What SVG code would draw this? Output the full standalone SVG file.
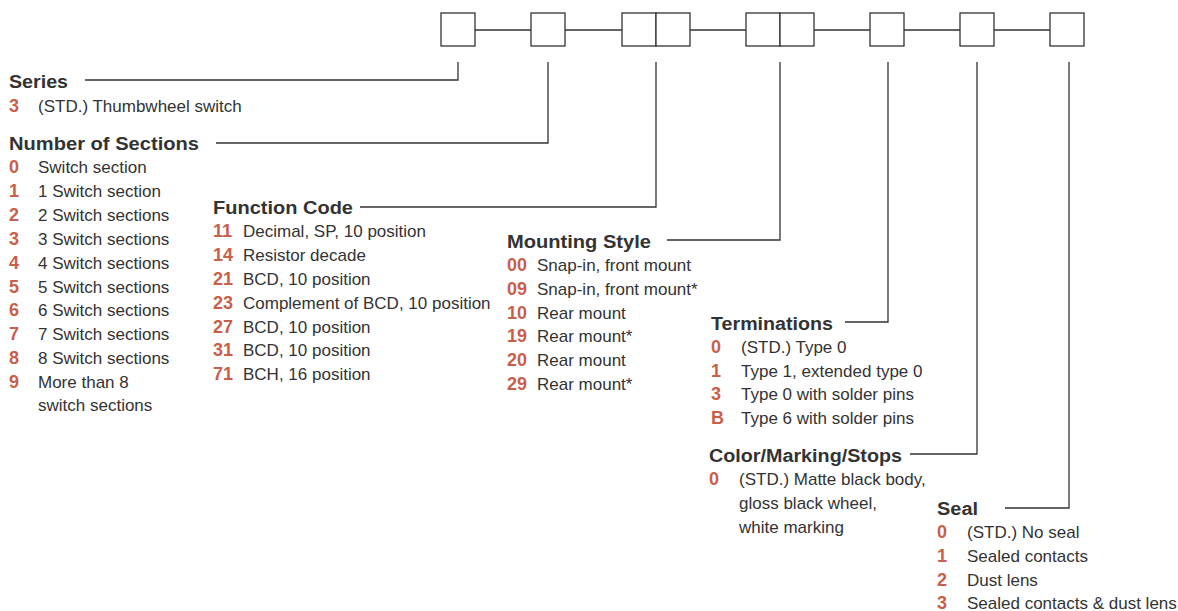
<svg xmlns="http://www.w3.org/2000/svg" width="1178" height="611" viewBox="0 0 1178 611">
<style>
.box{fill:#fff;stroke:#333;stroke-width:1.3}
.ln{fill:none;stroke:#333;stroke-width:1.3}
.h{font-family:"Liberation Sans",Arial,sans-serif;font-weight:bold;font-size:18px;fill:#333}
.t{font-family:"Liberation Sans",Arial,sans-serif;font-size:17px;fill:#333}
.n{font-family:"Liberation Sans",Arial,sans-serif;font-weight:bold;font-size:18px;fill:#c8604a}
</style>
<rect width="1178" height="611" fill="#fff"/>
<g id="connectors">
<path class="ln" d="M475 30H531M565 30H622M690 30H746M814 30H870M904 30H960M994 30H1050"/>
<path class="ln" d="M85 80H458V62"/>
<path class="ln" d="M216 143H548V62"/>
<path class="ln" d="M360 207H656V62"/>
<path class="ln" d="M667 240H780V62"/>
<path class="ln" d="M845 322H888V62"/>
<path class="ln" d="M910 454H977V62"/>
<path class="ln" d="M1005 508H1069V62"/>
</g>
<g id="code-boxes">
<rect class="box" x="441" y="13" width="34" height="33"/>
<rect class="box" x="531" y="13" width="34" height="33"/>
<rect class="box" x="622" y="13" width="34" height="33"/>
<rect class="box" x="656" y="13" width="34" height="33"/>
<rect class="box" x="746" y="13" width="34" height="33"/>
<rect class="box" x="780" y="13" width="34" height="33"/>
<rect class="box" x="870" y="13" width="34" height="33"/>
<rect class="box" x="960" y="13" width="34" height="33"/>
<rect class="box" x="1050" y="13" width="34" height="33"/>
</g>
<g id="series">
<text class="h" x="9" y="88" textLength="59" lengthAdjust="spacingAndGlyphs">Series</text>
<text class="n" x="9" y="112">3</text><text class="t" x="38" y="112">(STD.) Thumbwheel switch</text>
</g>
<g id="number-of-sections">
<text class="h" x="9" y="150" textLength="190" lengthAdjust="spacingAndGlyphs">Number of Sections</text>
<text class="n" x="9" y="173">0</text><text class="t" x="38" y="173">Switch section</text>
<text class="n" x="9" y="197">1</text><text class="t" x="38" y="197">1 Switch section</text>
<text class="n" x="9" y="221">2</text><text class="t" x="38" y="221">2 Switch sections</text>
<text class="n" x="9" y="245">3</text><text class="t" x="38" y="245">3 Switch sections</text>
<text class="n" x="9" y="269">4</text><text class="t" x="38" y="269">4 Switch sections</text>
<text class="n" x="9" y="293">5</text><text class="t" x="38" y="293">5 Switch sections</text>
<text class="n" x="9" y="316">6</text><text class="t" x="38" y="316">6 Switch sections</text>
<text class="n" x="9" y="340">7</text><text class="t" x="38" y="340">7 Switch sections</text>
<text class="n" x="9" y="364">8</text><text class="t" x="38" y="364">8 Switch sections</text>
<text class="n" x="9" y="388">9</text><text class="t" x="38" y="388">More than 8</text>
<text class="t" x="38" y="411">switch sections</text>
</g>
<g id="function-code">
<text class="h" x="213" y="214" textLength="140" lengthAdjust="spacingAndGlyphs">Function Code</text>
<text class="n" x="213" y="237">11</text><text class="t" x="243" y="237">Decimal, SP, 10 position</text>
<text class="n" x="213" y="261">14</text><text class="t" x="243" y="261">Resistor decade</text>
<text class="n" x="213" y="285">21</text><text class="t" x="243" y="285">BCD, 10 position</text>
<text class="n" x="213" y="309">23</text><text class="t" x="243" y="309">Complement of BCD, 10 position</text>
<text class="n" x="213" y="333">27</text><text class="t" x="243" y="333">BCD, 10 position</text>
<text class="n" x="213" y="356">31</text><text class="t" x="243" y="356">BCD, 10 position</text>
<text class="n" x="213" y="380">71</text><text class="t" x="243" y="380">BCH, 16 position</text>
</g>
<g id="mounting-style">
<text class="h" x="507" y="248" textLength="144" lengthAdjust="spacingAndGlyphs">Mounting Style</text>
<text class="n" x="507" y="271">00</text><text class="t" x="537" y="271">Snap-in, front mount</text>
<text class="n" x="507" y="295">09</text><text class="t" x="537" y="295">Snap-in, front mount*</text>
<text class="n" x="507" y="319">10</text><text class="t" x="537" y="319">Rear mount</text>
<text class="n" x="507" y="342">19</text><text class="t" x="537" y="342">Rear mount*</text>
<text class="n" x="507" y="366">20</text><text class="t" x="537" y="366">Rear mount</text>
<text class="n" x="507" y="390">29</text><text class="t" x="537" y="390">Rear mount*</text>
</g>
<g id="terminations">
<text class="h" x="711" y="330" textLength="122" lengthAdjust="spacingAndGlyphs">Terminations</text>
<text class="n" x="711" y="353">0</text><text class="t" x="741" y="353">(STD.) Type 0</text>
<text class="n" x="711" y="377">1</text><text class="t" x="741" y="377">Type 1, extended type 0</text>
<text class="n" x="711" y="400">3</text><text class="t" x="741" y="400">Type 0 with solder pins</text>
<text class="n" x="711" y="424">B</text><text class="t" x="741" y="424">Type 6 with solder pins</text>
</g>
<g id="color-marking-stops">
<text class="h" x="709" y="462" textLength="193" lengthAdjust="spacingAndGlyphs">Color/Marking/Stops</text>
<text class="n" x="709" y="485">0</text><text class="t" x="739" y="485">(STD.) Matte black body,</text>
<text class="t" x="739" y="509">gloss black wheel,</text>
<text class="t" x="739" y="533">white marking</text>
</g>
<g id="seal">
<text class="h" x="937" y="515" textLength="41" lengthAdjust="spacingAndGlyphs">Seal</text>
<text class="n" x="937" y="538">0</text><text class="t" x="967" y="538">(STD.) No seal</text>
<text class="n" x="937" y="562">1</text><text class="t" x="967" y="562">Sealed contacts</text>
<text class="n" x="937" y="586">2</text><text class="t" x="967" y="586">Dust lens</text>
<text class="n" x="937" y="609">3</text><text class="t" x="967" y="609">Sealed contacts &amp; dust lens</text>
</g>
</svg>
